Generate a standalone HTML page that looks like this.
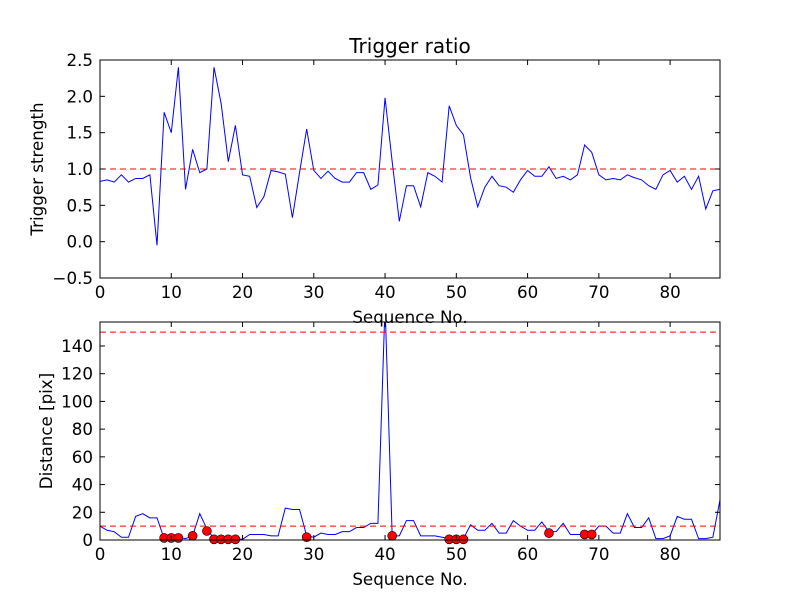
<!DOCTYPE html>
<html><head><meta charset="utf-8"><style>
body{margin:0;background:#fff;}
svg text{font-family:"DejaVu Sans","Liberation Sans",sans-serif;fill:#000;}
</style></head><body>
<svg id="chart" width="800" height="600" xmlns="http://www.w3.org/2000/svg">
<rect width="800" height="600" fill="#fff"/>
</svg>
<script>
const topValues=[0.83,0.85,0.82,0.92,0.82,0.87,0.87,0.92,-0.05,1.78,1.5,2.4,0.72,1.27,0.95,1.0,2.4,1.9,1.1,1.6,0.92,0.9,0.47,0.62,0.98,0.96,0.93,0.33,0.95,1.55,0.98,0.87,0.97,0.87,0.82,0.82,0.95,0.95,0.72,0.78,1.98,1.1,0.28,0.77,0.77,0.48,0.95,0.9,0.82,1.87,1.6,1.47,0.88,0.48,0.75,0.9,0.77,0.75,0.68,0.85,0.98,0.9,0.9,1.03,0.87,0.9,0.85,0.92,1.33,1.23,0.92,0.85,0.87,0.85,0.92,0.88,0.85,0.77,0.72,0.92,0.98,0.82,0.9,0.72,0.9,0.45,0.7,0.72];
const bottomValues=[10,7,6,2,2,17,19,16,16,1,2,2,1,3,19,8,1,1,1,1,0.5,4,4,4,3,3,23,22,22,3,2,5,4,4,6,6,9,9,12,12,170,3,3,14,14,3,3,3,2,1,1,1,11,7,7,12,5,5,14,10,7,7,13,6,6,12,4,4,4,4,10,10,5,5,19,9,9,16,1,1,3,17,15,15,1,1,2,29];
const markerX=[9,10,11,13,15,16,17,18,19,29,41,49,50,51,63,68,69];
const markerY=[1.5,1.5,1.5,3,6.5,0.5,0.5,0.5,0.5,2,3,0.5,0.5,0.5,5,4,4];
const topThreshold=1.0;
const bottomThresholds=[10,150];
const topTicksY=[-0.5,0.0,0.5,1.0,1.5,2.0,2.5];
const bottomTicksY=[0,20,40,60,80,100,120,140];
const ticksX=[0,10,20,30,40,50,60,70,80];

const svg=document.getElementById('chart');
const NS='http://www.w3.org/2000/svg';
function mk(tag,attrs,parent){const e=document.createElementNS(NS,tag);for(const k in attrs)e.setAttribute(k,attrs[k]);(parent||svg).appendChild(e);return e;}

function panel(name,y0,y1,ymin,ymax,ticksY,fmt,ylabel,title){
  const L=100,R=720,xmax=87;
  const g=mk('g',{});
  
  
  const sx=v=>L+(v/xmax)*(R-L);
  const sy=v=>y1-(v-ymin)/(ymax-ymin)*(y1-y0);
  const clipId=name+'-clip';
  const cp=mk('clipPath',{id:clipId},g);mk('rect',{x:L,y:y0,width:R-L,height:y1-y0},cp);
  const plot=mk('g',{'clip-path':'url(#'+clipId+')'},g);
  return {g,plot,sx,sy,L,R,y0,y1,ticksY,fmt,ylabel,title};
}
function axes(p){
  const {g,sx,sy,L,R,y0,y1}=p;
  const frame=mk('rect',{x:L,y:y0,width:R-L,height:y1-y0,fill:'none',stroke:'#000','stroke-width':1},g);
  
  
  ticksX.forEach(t=>{
    const x=sx(t);
    mk('line',{x1:x,x2:x,y1:y1,y2:y1-5,stroke:'#000'},g);
    mk('line',{x1:x,x2:x,y1:y0,y2:y0+5,stroke:'#000'},g);
    const tx=mk('text',{x:x,y:y1+20,'text-anchor':'middle','font-size':16.7},g);tx.textContent=t;
    
    
  });
  p.ticksY.forEach(t=>{
    const y=sy(t);
    mk('line',{x1:L,x2:L+5,y1:y,y2:y,stroke:'#000'},g);
    mk('line',{x1:R,x2:R-5,y1:y,y2:y,stroke:'#000'},g);
    const tx=mk('text',{x:L-7,y:y+6,'text-anchor':'end','font-size':16.7},g);tx.textContent=p.fmt(t);
    
    
  });
  const xl=mk('text',{x:(L+R)/2,y:y1+45,'text-anchor':'middle','font-size':16.7},g);xl.textContent='Sequence No.';
  
  
  const cy=(y0+y1)/2;
  const yl=mk('text',{x:0,y:0,'text-anchor':'middle','font-size':16.7,transform:'translate('+(p.ylabelX)+','+cy+') rotate(-90)'},g);yl.textContent=p.ylabel;
  
  
  if(p.title){const t=mk('text',{x:(L+R)/2,y:y0-7,'text-anchor':'middle','font-size':20},g);t.textContent=p.title;
    
    }
}
function line(p,vals,name){
  const d=vals.map((v,i)=>(i?'L':'M')+p.sx(i).toFixed(2)+' '+p.sy(v).toFixed(2)).join(' ');
  const e=mk('path',{d:d,fill:'none',stroke:'#0000ff','stroke-width':1},p.plot);
  
  
}
function hline(p,v,name){
  const e=mk('line',{x1:p.L,x2:p.R,y1:p.sy(v),y2:p.sy(v),stroke:'#ff0000','stroke-width':1,'stroke-dasharray':'6,4'},p.plot);
  
  
}

const topPanel=panel('top-panel',60,278,-0.5,2.5,topTicksY,t=>t.toFixed(1).replace('-','\u2212'),'Trigger strength','Trigger ratio');
topPanel.ylabelX=43;
line(topPanel,topValues,'trigger-strength-line');
hline(topPanel,topThreshold,'threshold-line');
axes(topPanel);

const botPanel=panel('bottom-panel',322,540,0,157.3,bottomTicksY,t=>String(t),'Distance [pix]',null);
botPanel.ylabelX=52;
line(botPanel,bottomValues,'distance-line');
bottomThresholds.forEach(v=>hline(botPanel,v,'distance-threshold-line'));
markerX.forEach((x,i)=>{
  const c=mk('circle',{cx:botPanel.sx(x),cy:botPanel.sy(markerY[i]),r:4.5,fill:'#ff0000',stroke:'#000','stroke-width':0.6},botPanel.g);
  
  
});
axes(botPanel);
</script>
</body></html>
